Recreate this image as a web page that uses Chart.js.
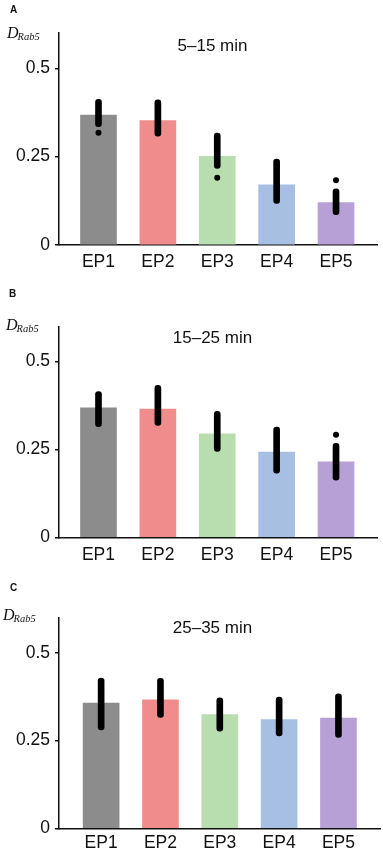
<!DOCTYPE html>
<html>
<head>
<meta charset="utf-8">
<script src="https://cdn.jsdelivr.net/npm/chart.js@4.4.1/dist/chart.umd.min.js"></script>
<style>
  html, body { margin: 0; padding: 0; background: #fff; }
  .panel { position: absolute; left: 0; width: 383px; }
</style>
</head>
<body>
<div class="panel" style="top:0;height:280px"><canvas id="chartA" width="383" height="280"></canvas></div>
<div class="panel" style="top:280px;height:290px"><canvas id="chartB" width="383" height="290"></canvas></div>
<div class="panel" style="top:570px;height:280px"><canvas id="chartC" width="383" height="280"></canvas></div>
<script>
// categories and y ticks
const categories = ['EP1', 'EP2', 'EP3', 'EP4', 'EP5'];
const yTickValues = [0, 0.25, 0.5];
const yTickLabels = ['0', '0.25', '0.5'];

// panel A, 5–15 min
const meanA = [0.368, 0.352, 0.251, 0.170, 0.120];
const lowA = [0.335, 0.308, 0.217, 0.118, 0.086];
const highA = [0.412, 0.411, 0.317, 0.243, 0.159];
const outCatA = ['EP1', 'EP3', 'EP5'];
const outValA = [0.318, 0.190, 0.183];

// panel B, 15–25 min
const meanB = [0.369, 0.365, 0.295, 0.243, 0.215];
const lowB = [0.315, 0.319, 0.245, 0.183, 0.163];
const highB = [0.415, 0.433, 0.359, 0.314, 0.268];
const outCatB = ['EP5'];
const outValB = [0.292];

// panel C, 25–35 min
const meanC = [0.357, 0.366, 0.324, 0.310, 0.314];
const lowC = [0.280, 0.316, 0.277, 0.263, 0.259];
const highC = [0.428, 0.427, 0.372, 0.374, 0.383];
const outCatC = [];
const outValC = [];

const barColors = ['#8c8c8c', '#f08c8c', '#b8deb0', '#a6bfe3', '#b7a0d6'];
const ink = '#111';

Chart.defaults.font.family = '"Liberation Sans", Arial, sans-serif';
Chart.defaults.color = ink;

// letter, D_Rab5 label and time title
const panelText = {
  id: 'panelText',
  afterDraw(chart, args, opts) {
    const ctx = chart.ctx;
    ctx.save();
    ctx.fillStyle = ink;
    ctx.textBaseline = 'alphabetic';
    ctx.textAlign = 'left';
    ctx.font = 'bold 10px "Liberation Sans", Arial, sans-serif';
    ctx.fillText(opts.letter, opts.letterX, opts.letterY);
    ctx.font = 'italic 16px "Liberation Serif", "Times New Roman", serif';
    ctx.fillText('D', opts.labelX, opts.labelY);
    const w = ctx.measureText('D').width;
    ctx.font = 'italic 10.5px "Liberation Serif", "Times New Roman", serif';
    ctx.fillText('Rab5', opts.labelX + w - 1, opts.labelY + 2);
    ctx.font = '17px "Liberation Sans", Arial, sans-serif';
    ctx.textAlign = 'center';
    ctx.fillText(opts.title, opts.titleX, opts.titleY);
    ctx.restore();
  }
};

function pos(cat) {
  return categories.indexOf(cat) + 1;
}

function makePanel(id, mean, low, high, outCat, outVal, lay) {
  const ctx = document.getElementById(id).getContext('2d');
  return new Chart(ctx, {
    type: 'bar',
    data: {
      datasets: [
        {
          type: 'scatter',
          data: outCat.map((c, i) => ({ x: pos(c), y: outVal[i] })),
          pointRadius: 3,
          pointBackgroundColor: '#000',
          pointBorderWidth: 0,
          order: 0
        },
        {
          data: categories.map((c, i) => ({ x: pos(c), y: [low[i], high[i]] })),
          backgroundColor: '#000',
          barThickness: 6,
          borderRadius: 3,
          borderSkipped: false,
          grouped: false,
          order: 1
        },
        {
          data: categories.map((c, i) => ({ x: pos(c), y: mean[i] })),
          backgroundColor: barColors,
          barThickness: 36,
          grouped: false,
          order: 2
        }
      ]
    },
    options: {
      responsive: false,
      animation: false,
      layout: { padding: { top: lay.padTop, right: lay.padRight, bottom: 0, left: 0 } },
      plugins: {
        legend: { display: false },
        tooltip: { enabled: false },
        panelText: lay
      },
      scales: {
        x: {
          type: 'linear',
          offset: false,
          min: lay.xMin,
          max: lay.xMax,
          z: 1,
          afterFit: s => { s.height = lay.xAxisHeight; },
          afterBuildTicks: s => { s.ticks = categories.map(c => ({ value: pos(c) })); },
          grid: { display: false, drawTicks: false, offset: false },
          border: { display: true, color: ink, width: 1.5 },
          ticks: {
            autoSkip: false,
            maxRotation: 0,
            padding: lay.labelPad,
            font: { size: 17.5 },
            callback: v => categories[v - 1] || ''
          }
        },
        y: {
          min: 0,
          max: 0.6,
          afterFit: s => { s.width = 59; },
          afterBuildTicks: s => { s.ticks = yTickValues.map(v => ({ value: v })); },
          grid: { drawOnChartArea: false, drawTicks: true, tickLength: 4, color: ink, lineWidth: 1.5 },
          border: { display: true, color: ink, width: 1.5 },
          ticks: {
            padding: 5,
            font: { size: 17.5 },
            callback: v => yTickLabels[yTickValues.indexOf(v)]
          }
        }
      }
    },
    plugins: [panelText]
  });
}

makePanel('chartA', meanA, lowA, highA, outCatA, outValA, {
  padTop: 33, padRight: 6, xAxisHeight: 35, xMin: 0.335, xMax: 5.69, labelPad: 7,
  letter: 'A', letterX: 10, letterY: 13,
  labelX: 7, labelY: 38,
  title: '5–15 min', titleX: 212.5, titleY: 50.7
});
makePanel('chartB', meanB, lowB, highB, outCatB, outValB, {
  padTop: 46.5, padRight: 6, xAxisHeight: 32.5, xMin: 0.335, xMax: 5.69, labelPad: 7,
  letter: 'B', letterX: 9, letterY: 17,
  labelX: 6, labelY: 50,
  title: '15–25 min', titleX: 212.5, titleY: 62.7
});
makePanel('chartC', meanC, lowC, highC, outCatC, outValC, {
  padTop: 47.7, padRight: 3, xAxisHeight: 21.7, xMin: 0.29, xMax: 5.70, labelPad: 4,
  letter: 'C', letterX: 10, letterY: 21,
  labelX: 3, labelY: 50,
  title: '25–35 min', titleX: 212.5, titleY: 62.7
});
</script>
</body>
</html>
